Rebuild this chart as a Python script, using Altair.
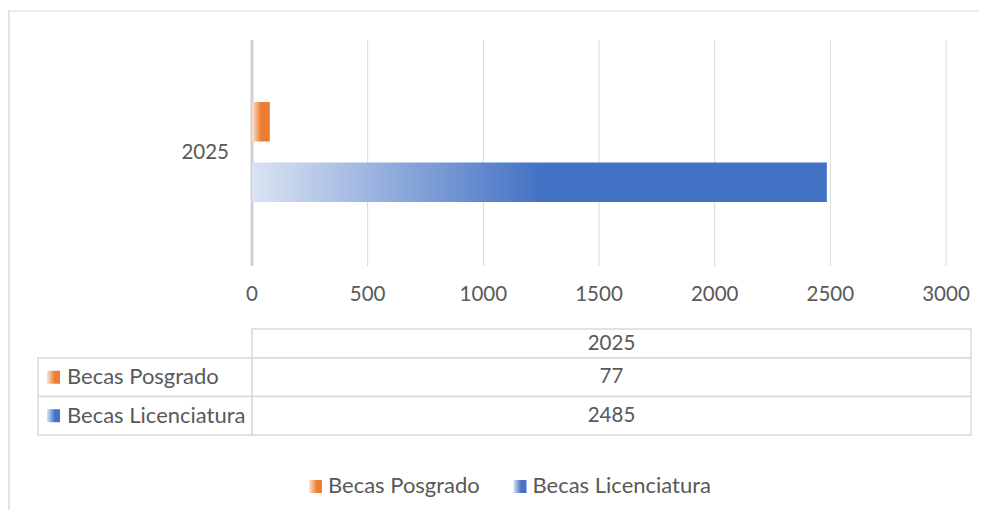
import altair as alt
import pandas as pd

# ---- data ----
categories = ["2025"]
series = ["Becas Posgrado", "Becas Licenciatura"]
values = [77, 2485]
ticks = [0, 500, 1000, 1500, 2000, 2500, 3000]
colors = ["#ED7D31", "#4472C4"]
light = ["#FBE5D6", "#DAE3F3"]

df = pd.DataFrame({"year": categories[0], "serie": series, "value": values,
                   "label": [str(v) for v in values]})
tick_df = pd.DataFrame({"t": ticks, "lab": [str(t) for t in ticks]})
cat_df = pd.DataFrame({"year": categories})

FONT = "Lato"
FS_NUM = 20.5
FS_TXT = 22
TXT = "#595959"
GRID = "#d9d9d9"

W, H = 971, 502
xscale = alt.Scale(domain=[0, 3000], range=[244, 938])
ybar = alt.Scale(domain=series, range=[94, 194], paddingInner=0.35, paddingOuter=0)
ycat = alt.Scale(domain=categories, range=[32, 258])
ytab = alt.Scale(domain=series, range=[350, 427], paddingInner=0, paddingOuter=0)
xleg = alt.Scale(domain=series, range=[307.5, 512], padding=0)


def grad(i, mid=0.5):
    return alt.Gradient(
        gradient="linear",
        stops=[alt.GradientStop(color=light[i], offset=0),
               alt.GradientStop(color=colors[i], offset=mid),
               alt.GradientStop(color=colors[i], offset=1)],
        x1=0, x2=1, y1=0, y2=0)


layers = []

# outer frame (top and left edges)
frame = alt.Chart(cat_df)
layers.append(frame.mark_rule(color=GRID, strokeWidth=1).encode(
    x=alt.value(0), x2=alt.value(W), y=alt.value(3)))
layers.append(frame.mark_rule(color=GRID, strokeWidth=1.5).encode(
    x=alt.value(1), y=alt.value(3), y2=alt.value(H)))

# gridlines
layers.append(alt.Chart(tick_df).transform_filter(alt.datum.t > 0).mark_rule(
    color=GRID, strokeWidth=1).encode(
    x=alt.X("t:Q", scale=xscale, axis=None), y=alt.value(32), y2=alt.value(258)))
layers.append(alt.Chart(tick_df).transform_filter(alt.datum.t == 0).mark_rule(
    color="#d0d0d0", strokeWidth=3).encode(
    x=alt.X("t:Q", scale=xscale, axis=None), y=alt.value(32), y2=alt.value(258)))

# bars
for i, s in enumerate(series):
    layers.append(alt.Chart(df).transform_filter(alt.datum.serie == s).mark_bar(
        color=grad(i)).encode(
        x=alt.X("value:Q", scale=xscale, axis=None),
        y=alt.Y("serie:N", scale=ybar, axis=None)))

# x tick labels
layers.append(alt.Chart(tick_df).mark_text(
    font=FONT, fontSize=FS_NUM, color=TXT, baseline="middle", align="center").encode(
    x=alt.X("t:Q", scale=xscale, axis=None), y=alt.value(286.5), text="lab:N"))

# category label
layers.append(alt.Chart(cat_df).mark_text(
    font=FONT, fontSize=FS_NUM, color=TXT, baseline="middle", align="right").encode(
    x=alt.value(221), y=alt.Y("year:N", scale=ycat, axis=None), text="year:N"))

# ---- data table ----
cell = dict(fill="white", stroke=GRID, strokeWidth=1.5)
layers.append(alt.Chart(cat_df).mark_rect(**cell).encode(
    x=alt.value(244), x2=alt.value(963), y=alt.value(321), y2=alt.value(350)))
layers.append(alt.Chart(cat_df).mark_text(
    font=FONT, fontSize=FS_NUM, color=TXT, baseline="middle", align="center").encode(
    x=alt.value(603.5), y=alt.value(336), text="year:N"))
layers.append(alt.Chart(df).mark_rect(**cell).encode(
    x=alt.value(30), x2=alt.value(244), y=alt.Y("serie:N", scale=ytab, axis=None)))
layers.append(alt.Chart(df).mark_rect(**cell).encode(
    x=alt.value(244), x2=alt.value(963), y=alt.Y("serie:N", scale=ytab, axis=None)))
layers.append(alt.Chart(df).mark_text(
    font=FONT, fontSize=FS_TXT, color=TXT, baseline="middle", align="left").encode(
    x=alt.value(59), y=alt.Y("serie:N", scale=ytab, axis=None), text="serie:N"))
layers.append(alt.Chart(df).mark_text(
    font=FONT, fontSize=FS_NUM, color=TXT, baseline="middle", align="center").encode(
    x=alt.value(603.5), y=alt.Y("serie:N", scale=ytab, axis=None), text="label:N"))
for i, s in enumerate(series):
    layers.append(alt.Chart(df).transform_filter(alt.datum.serie == s).mark_square(
        size=169, fill=grad(i, 0.6), opacity=1, strokeWidth=0).encode(
        x=alt.value(45.5), y=alt.Y("serie:N", scale=ytab, axis=None)))

# ---- bottom legend ----
for i, s in enumerate(series):
    layers.append(alt.Chart(df).transform_filter(alt.datum.serie == s).mark_square(
        size=169, fill=grad(i, 0.6), opacity=1, strokeWidth=0).encode(
        x=alt.X("serie:N", scale=xleg, axis=None), y=alt.value(478.5)))
layers.append(alt.Chart(df).mark_text(
    font=FONT, fontSize=FS_TXT, color=TXT, baseline="middle", align="left", dx=12.5).encode(
    x=alt.X("serie:N", scale=xleg, axis=None), y=alt.value(477.5), text="serie:N"))

chart = alt.layer(*layers).resolve_scale(x="independent", y="independent").properties(
    width=W, height=H, padding=0, autosize=alt.AutoSizeParams(type="none")
).configure_view(stroke=None)

chart.save("out.html", embed_options={"renderer": "svg", "actions": False})
